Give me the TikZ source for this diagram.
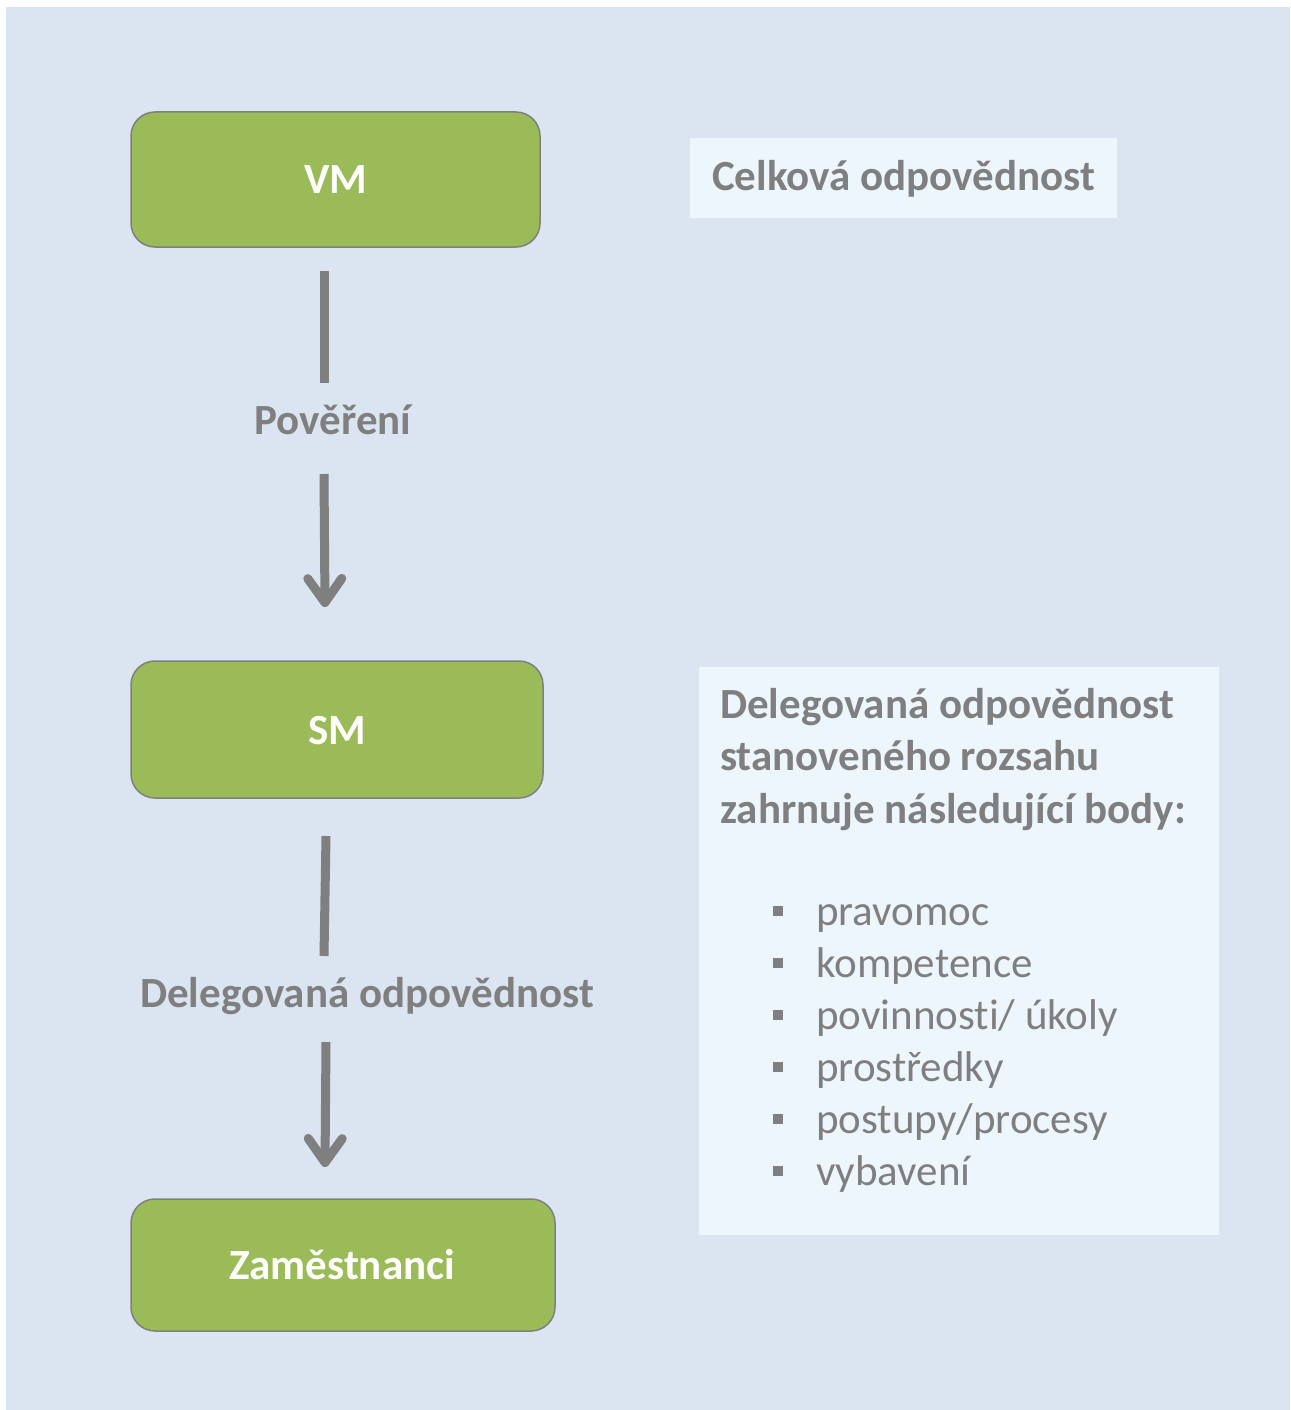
\documentclass[tikz,border=0pt]{standalone}
\usepackage{fontspec}
\setmainfont{Carlito}[Ligatures=NoCommon]
\usetikzlibrary{arrows.meta}
\definecolor{panelbg}{HTML}{DBE5F1}
\definecolor{notebg}{HTML}{EEF6FD}
\definecolor{leafgreen}{HTML}{9BBB59}
\definecolor{txtgray}{HTML}{7F7F7F}
\begin{document}
\begin{tikzpicture}[x=1pt,y=-1pt,
  rolebox/.style={draw=txtgray,line width=1.5pt,fill=leafgreen,rounded corners=24pt},
  roletext/.style={anchor=base,text=white,font=\fontsize{43}{52}\selectfont\bfseries,inner sep=0pt},
  flowlabel/.style={anchor=base,text=txtgray,font=\fontsize{43}{52}\selectfont\bfseries,inner sep=0pt},
  notetext/.style={anchor=base west,text=txtgray,font=\fontsize{43}{52}\selectfont\bfseries,inner sep=0pt},
  itemtext/.style={anchor=base west,text=txtgray,font=\fontsize{43}{52}\selectfont,inner sep=0pt},
  bulletsq/.style={fill=txtgray},
  flowline/.style={draw=txtgray,line width=9pt},
  flowarrow/.style={flowline,-{Straight Barb[length=24pt,width=34pt,round]}}
]
% page and panel
\useasboundingbox (0,0) rectangle (1290,1410);
\fill[white] (0,0) rectangle (1290,1410);
\fill[panelbg] (6,7) rectangle (1290,1410);

% role boxes
\draw[rolebox] (131,112) rectangle (540,247);
\draw[rolebox] (131,661) rectangle (543,798);
\draw[rolebox] (131,1199) rectangle (555,1331);
\node[roletext] (vm) at (336,193) {VM};
\node[roletext] (sm) at (337,744) {SM};
\node[roletext] (emp) at (342,1279) {Zaměstnanci};

% flow labels
\node[flowlabel] (pov) at (333,434) {Pověření};
\node[flowlabel] (del) at (367,1007) {Delegovaná odpovědnost};

% connector ends
\coordinate (a1top) at (324,271);
\coordinate (a1bot) at (324,383);
\coordinate (a2top) at (324,474);
\coordinate (a2tip) at (325,607);
\coordinate (b1top) at (326,836);
\coordinate (b1bot) at (324,956);
\coordinate (b2top) at (326,1042);
\coordinate (b2tip) at (325,1167);

\draw[flowline] (a1top) -- (a1bot);
\draw[flowarrow] (a2top) -- (a2tip);
\draw[flowline] (b1top) -- (b1bot);
\draw[flowarrow] (b2top) -- (b2tip);

% note boxes
\fill[notebg] (690,138) rectangle (1117,218);
\node[notetext] (celk) at (712,190) {Celková odpovědnost};

\fill[notebg] (699,667) rectangle (1219,1235);
\node[notetext] (d1) at (720,718) {Delegovaná odpovědnost};
\node[notetext] (d2) at (720,770) {stanoveného rozsahu};
\node[notetext] (d3) at (720,823) {zahrnuje následující body:};

\foreach \t [count=\i] in {pravomoc,kompetence,povinnosti/ úkoly,prostředky,postupy/procesy,vybavení}{
  \pgfmathsetmacro{\yb}{925+52*(\i-1)}
  \node[itemtext] (item\i) at (816,\yb) {\t};
  \fill[bulletsq] (773,\yb-19) rectangle (783,\yb-9);
}
\end{tikzpicture}
\end{document}
